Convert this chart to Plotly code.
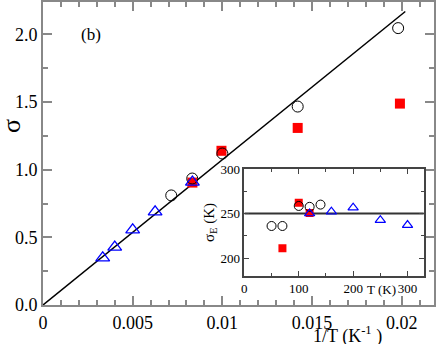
import plotly.graph_objects as go

# main panel: sigma vs 1/T
circ_x = [0.00715, 0.00832, 0.01, 0.0142, 0.0198]
circ_y = [0.81, 0.935, 1.12, 1.467, 2.047]
sq_x = [0.00833, 0.00995, 0.0142, 0.0199]
sq_y = [0.905, 1.14, 1.309, 1.489]
tri_x = [0.00333, 0.004, 0.005, 0.00625, 0.00833]
tri_y = [0.348, 0.428, 0.556, 0.688, 0.908]
fit_x = [0.0, 0.0202]
fit_y = [0.0, 2.17]

# inset: sigma_E vs T
in_circ_t = [50, 70, 100, 120, 140]
in_circ_s = [236, 236, 258.5, 257.5, 260]
in_sq_t = [70, 100, 120]
in_sq_s = [211, 262, 250.5]
in_tri_t = [120, 160, 200, 250, 300]
in_tri_s = [250, 252, 256.5, 242.5, 237]
mean_t = [0, 330]
mean_s = [250, 250]

FONT = "Liberation Serif, Times New Roman, serif"

fig = go.Figure()
fig.add_trace(go.Scatter(x=fit_x, y=fit_y, mode="lines", line=dict(color="black", width=1.5)))
fig.add_trace(go.Scatter(x=sq_x, y=sq_y, mode="markers",
                         marker=dict(symbol="square", size=10, color="red")))
fig.add_trace(go.Scatter(x=circ_x, y=circ_y, mode="markers",
                         marker=dict(symbol="circle-open", size=11, color="black", line=dict(width=1))))
fig.add_trace(go.Scatter(x=tri_x, y=tri_y, mode="markers",
                         marker=dict(symbol="triangle-up-open", size=12, color="blue", line=dict(width=1.3))))

fig.add_trace(go.Scatter(x=mean_t, y=mean_s, mode="lines", xaxis="x2", yaxis="y2",
                         line=dict(color="#333", width=2)))
fig.add_trace(go.Scatter(x=in_sq_t, y=in_sq_s, mode="markers", xaxis="x2", yaxis="y2",
                         marker=dict(symbol="square", size=8, color="red")))
fig.add_trace(go.Scatter(x=in_circ_t, y=in_circ_s, mode="markers", xaxis="x2", yaxis="y2",
                         marker=dict(symbol="circle-open", size=9, color="black", line=dict(width=1))))
fig.add_trace(go.Scatter(x=in_tri_t, y=in_tri_s, mode="markers", xaxis="x2", yaxis="y2",
                         marker=dict(symbol="triangle-up-open", size=9, color="blue", line=dict(width=1.2))))

axis_main = dict(showgrid=False, zeroline=False, showline=True, linecolor="#888", linewidth=2,
                 mirror="allticks", ticks="inside", tickcolor="#888", tickwidth=1.5, ticklen=9,
                 automargin=False,
                 tickfont=dict(family=FONT, size=18, color="black"))
inset_axis = dict(showgrid=False, zeroline=False, showline=True, linecolor="#444", linewidth=1.5,
                  mirror="allticks", ticks="inside", ticklen=5, tickcolor="#444",
                  automargin=False,
                  tickfont=dict(family=FONT, size=13, color="black"))
fig.update_layout(
    width=438, height=344,
    margin=dict(l=43, r=4, t=2, b=39, autoexpand=False),
    plot_bgcolor="white", paper_bgcolor="white",
    showlegend=False,
    font=dict(family=FONT, color="black"),
    xaxis=dict(axis_main, range=[0, 0.0218], tick0=0, dtick=0.005,
               minor=dict(ticks="inside", dtick=0.001, ticklen=5, tickcolor="#888")),
    yaxis=dict(axis_main, range=[0, 2.24], tick0=0, dtick=0.5, tickformat=".1f",
               minor=dict(ticks="inside", dtick=0.25, ticklen=5, tickcolor="#888")),
    xaxis2=dict(inset_axis, domain=[0.515, 0.974], anchor="y2", range=[0, 330], dtick=100,
                minor=dict(ticks="inside", dtick=50, ticklen=3, tickcolor="#444")),
    yaxis2=dict(inset_axis, domain=[0.096, 0.449], anchor="x2", range=[180, 300], dtick=50,
                minor=dict(ticks="inside", dtick=25, ticklen=3, tickcolor="#444"),
                title=dict(text="σ<sub>E</sub> (K)", font=dict(family=FONT, size=15), standoff=2)),
    annotations=[
        dict(text="(b)", x=0.0027, y=2.0, xref="x", yref="y", showarrow=False,
             font=dict(family=FONT, size=17)),
        dict(text="T (K)", x=0.0189, y=0.112, xref="x", yref="y", showarrow=False,
             font=dict(family=FONT, size=13)),
        dict(text="1/T (K<sup>-1</sup> )", x=0.78, y=-0.1, xref="paper", yref="paper",
             xanchor="center", yanchor="middle",
             showarrow=False, font=dict(family=FONT, size=18)),
        dict(text="σ", x=-0.08, y=0.59, xref="paper", yref="paper", textangle=-90,
             xanchor="center", yanchor="middle",
             showarrow=False, font=dict(family=FONT, size=26)),
    ],
)

fig.write_html("out.html", post_script="document.body.style.margin='0';",
               config={"displayModeBar": False})
